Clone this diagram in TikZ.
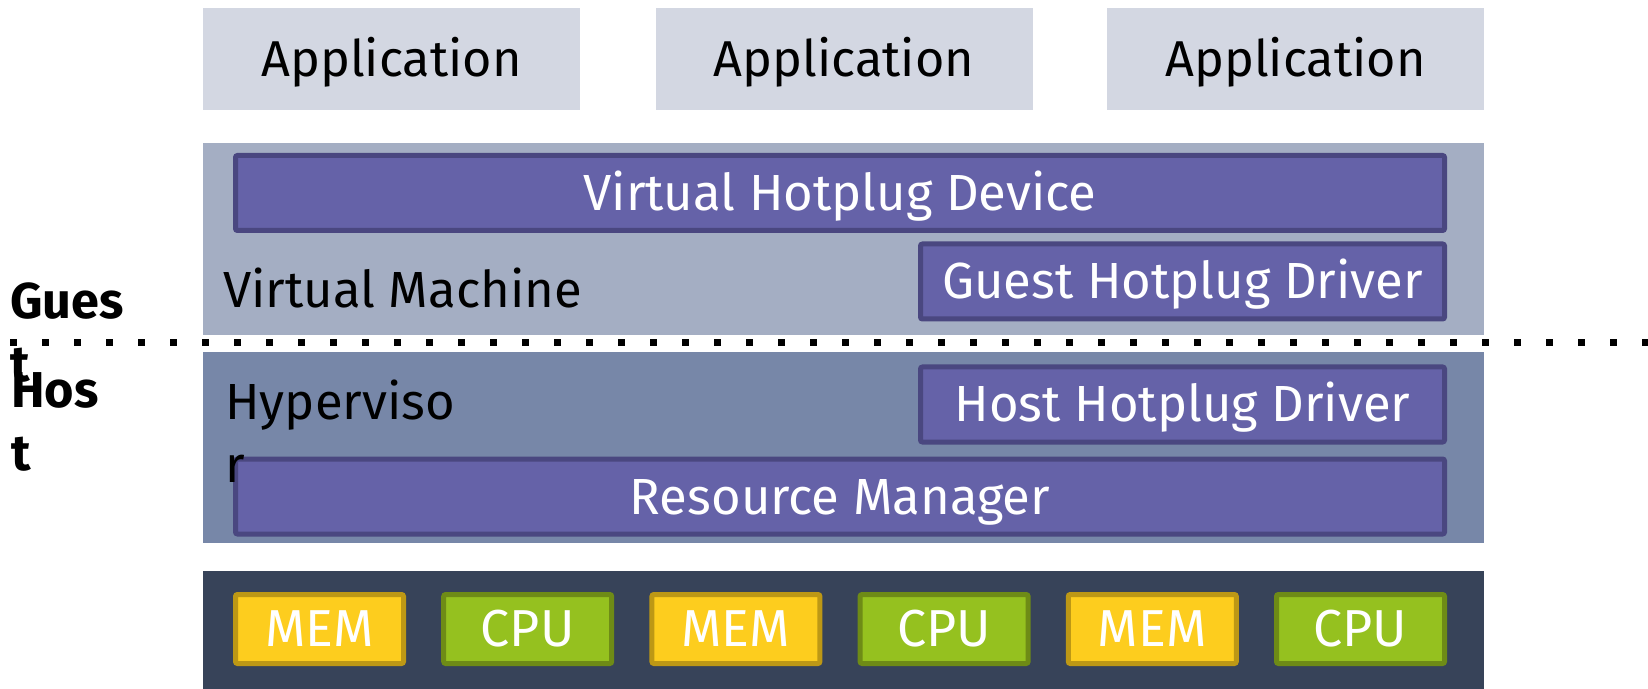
\documentclass[tikz,border=0pt]{standalone}
\usepackage{fontspec}
\setmainfont{Fira Sans}
\definecolor{appfill}{HTML}{D3D7E2}
\definecolor{vmfill}{HTML}{A4AEC3}
\definecolor{hypfill}{HTML}{7787A8}
\definecolor{hwfill}{HTML}{374359}
\definecolor{compfill}{HTML}{6562A8}
\definecolor{compline}{HTML}{4A4780}
\definecolor{memfill}{HTML}{FDCD1E}
\definecolor{memline}{HTML}{BD9815}
\definecolor{cpufill}{HTML}{95C11F}
\definecolor{cpuline}{HTML}{6E8B16}
\tikzset{
  layer/.style={rectangle, inner sep=0pt, outer sep=0pt},
  appbox/.style={layer, fill=appfill, minimum width=188.5pt, minimum height=51pt,
    text height=17.4pt, text depth=0pt, font=\fontsize{25.2}{30}\selectfont},
  comp/.style={rectangle, inner sep=0pt, fill=compfill, draw=compline, line width=2.5pt,
    rounded corners=1pt, minimum height=37.5pt, text=white,
    text height=17.5pt, text depth=0pt, font=\fontsize{25.4}{30}\selectfont},
  chip/.style={rectangle, inner sep=0pt, line width=2.5pt, rounded corners=1pt,
    minimum width=84pt, minimum height=34.5pt, text=white,
    text height=17.9pt, text depth=0pt, font=\fontsize{26}{31}\selectfont},
  memchip/.style={chip, fill=memfill, draw=memline},
  cpuchip/.style={chip, fill=cpufill, draw=cpuline},
  layerlabel/.style={anchor=base west, inner sep=0pt, font=\fontsize{25.4}{31.5}\selectfont},
  sidelabel/.style={anchor=base west, inner sep=0pt, align=left,
    font=\fontsize{25.2}{31.5}\selectfont\bfseries},
  divider/.style={line width=3.5pt, dash pattern=on 3.5pt off 12.5pt}
}
\begin{document}
\begin{tikzpicture}[x=0.5pt, y=-0.5pt]
\useasboundingbox (0,0) rectangle (1648,689);

% applications
\node[appbox] (app1) at (391.5,59) {Application};
\node[appbox] (app2) at (844,59) {Application};
\node[appbox] (app3) at (1295.5,59) {Application};

% guest side: virtual machine
\node[layer, fill=vmfill, minimum width=640.5pt, minimum height=96pt] (vm) at (843.5,239) {};
\node[comp, minimum width=604.5pt] (vhd) at (840,193) {Virtual Hotplug Device};
\node[comp, minimum width=262pt] (ghd) at (1182.5,281.5) {Guest Hotplug Driver};
\node[layerlabel] (vmlabel) at (223,308) {Virtual Machine};

% host side: hypervisor
\node[layer, fill=hypfill, minimum width=640.5pt, minimum height=95.5pt] (hyp) at (843.5,447.5) {};
\node[comp, minimum width=262pt] (hhd) at (1182.5,404.5) {Host Hotplug Driver};
\node[comp, minimum width=604.5pt] (rm) at (840,496.5) {Resource Manager};
\node[layerlabel, align=left] (hyplabel) at (225,482) {Hyperviso\\r};

% hardware
\node[layer, fill=hwfill, minimum width=640.5pt, minimum height=59pt] (hw) at (843.5,630) {};
\node[memchip] (mem1) at (319.5,629) {MEM};
\node[cpuchip] (cpu1) at (527.7,629) {CPU};
\node[memchip] (mem2) at (735.9,629) {MEM};
\node[cpuchip] (cpu2) at (944.1,629) {CPU};
\node[memchip] (mem3) at (1152.3,629) {MEM};
\node[cpuchip] (cpu3) at (1360.5,629) {CPU};

% guest / host boundary
\coordinate (gl) at (10,343);
\coordinate (gr) at (1648,343);
\draw[divider] (gl) -- (gr);
\node[sidelabel] (guest) at (10,381) {Gues\\t};
\node[sidelabel] (host) at (11,470) {Hos\\t};
\end{tikzpicture}
\end{document}
